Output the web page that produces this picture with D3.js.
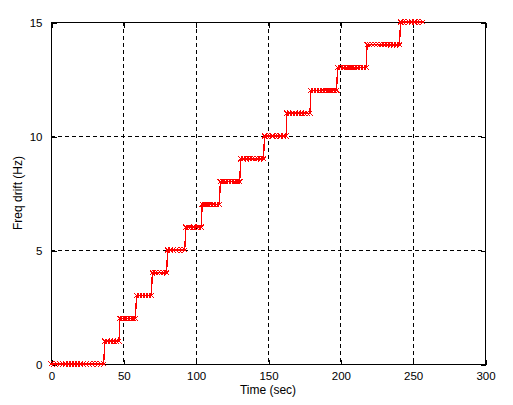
<!DOCTYPE html>
<html>
<head>
<meta charset="utf-8">
<script src="https://cdn.jsdelivr.net/npm/d3@7"></script>
<style>
  html, body { margin: 0; padding: 0; background: #fff; }
  svg { display: block; }
  text { font-family: "Liberation Sans", Arial, sans-serif; fill: #000; }
</style>
</head>
<body>
<div id="chart"></div>
<script>
// ---- data ----
const stepLevels = [0, 1, 2, 3, 4, 5, 6, 7, 8, 9, 10, 11, 12, 13, 14, 15];
// time (sec) at which each plateau starts / ends
const stepStarts = [0, 37, 47.5, 59, 70, 80.5, 93, 104.5, 117, 131, 147.5, 163, 179.5, 198, 218.5, 241.5];
const stepEnds   = [36.5, 47, 58.5, 69.5, 80, 92.5, 104, 116.5, 130.5, 147, 162.5, 179, 197.5, 218, 241, 257];
const sampleInterval = 2;
const xTicks = [0, 50, 100, 150, 200, 250, 300];
const yTicks = [0, 5, 10, 15];
const xLabel = "Time (sec)";
const yLabel = "Freq drift (Hz)";

// sampled step signal
const samples = [];
stepLevels.forEach((lv, i) => {
  const s = stepStarts[i], e = stepEnds[i];
  const n = Math.max(1, Math.round((e - s) / sampleInterval));
  for (let k = 0; k <= n; k++) samples.push({ t: s + (e - s) * k / n, f: lv });
});

const W = 513, H = 405;
const svg = d3.select("#chart").append("svg").attr("width", W).attr("height", H);

const x = d3.scaleLinear().domain([0, 300]).range([51, 485]);
const y = d3.scaleLinear().domain([0, 15]).range([364, 22]);

const x0 = x.range()[0], x1 = x.range()[1];
const y0 = y.range()[0], y1 = y.range()[1];

// grid
const grid = svg.append("g").attr("shape-rendering", "crispEdges");
grid.selectAll("line.gx").data(xTicks.filter(d => d > 0 && d < 300)).join("line")
  .attr("x1", d => x(d) + 0.5).attr("x2", d => x(d) + 0.5)
  .attr("y1", y1).attr("y2", y0)
  .attr("stroke", "#000").attr("stroke-width", 1).attr("stroke-dasharray", "4,3");
grid.selectAll("line.gy").data(yTicks.filter(d => d > 0 && d < 15)).join("line")
  .attr("y1", d => y(d) + 0.5).attr("y2", d => y(d) + 0.5)
  .attr("x1", x0).attr("x2", x1)
  .attr("stroke", "#000").attr("stroke-width", 1).attr("stroke-dasharray", "4,3");

// axes with inward ticks (box style)
const tl = 5;
const gBottom = svg.append("g").attr("transform", `translate(0.5,${y0 + 0.5})`)
  .call(d3.axisBottom(x).tickValues(xTicks).tickSize(-tl).tickPadding(7).tickFormat(d3.format("d")));
const gTop = svg.append("g").attr("transform", `translate(0.5,${y1 + 0.5})`)
  .call(d3.axisTop(x).tickValues(xTicks).tickSize(-tl).tickFormat(""));
const gLeft = svg.append("g").attr("transform", `translate(${x0 + 0.5},0.5)`)
  .call(d3.axisLeft(y).tickValues(yTicks).tickSize(-tl).tickPadding(9).tickFormat(d3.format("d")));
const gRight = svg.append("g").attr("transform", `translate(${x1 + 0.5},0.5)`)
  .call(d3.axisRight(y).tickValues(yTicks).tickSize(-tl).tickFormat(""));

[gBottom, gTop, gLeft, gRight].forEach(g => {
  g.attr("shape-rendering", "crispEdges");
  g.select(".domain").remove();
  g.selectAll(".tick line").attr("stroke", "#000");
  g.selectAll("text").attr("font-family", "Liberation Sans, Arial, sans-serif").attr("font-size", 11.5).attr("fill", "#000");
});

// box
svg.append("rect")
  .attr("x", x0 + 0.5).attr("y", y1 + 0.5)
  .attr("width", x1 - x0).attr("height", y0 - y1)
  .attr("fill", "none").attr("stroke", "#000").attr("stroke-width", 1)
  .attr("shape-rendering", "crispEdges");

// data line
const plot = svg.append("g").attr("shape-rendering", "crispEdges");
plot.append("path")
  .datum(samples)
  .attr("fill", "none").attr("stroke", "#ff0000").attr("stroke-width", 1.2)
  .attr("d", d3.line().x(d => x(d.t)).y(d => y(d.f)));

// x markers
const ms = 2.5;
plot.selectAll("path.mk").data(samples).join("path")
  .attr("class", "mk")
  .attr("transform", d => `translate(${x(d.t)},${y(d.f)})`)
  .attr("d", `M${-ms},${-ms}L${ms},${ms}M${-ms},${ms}L${ms},${-ms}`)
  .attr("stroke", "#ff0000").attr("stroke-width", 1).attr("fill", "none");

// axis labels
svg.append("text")
  .attr("x", (x0 + x1) / 2).attr("y", 394)
  .attr("text-anchor", "middle").attr("font-size", 12)
  .text(xLabel);
svg.append("text")
  .attr("transform", `translate(22,${(y0 + y1) / 2}) rotate(-90)`)
  .attr("text-anchor", "middle").attr("font-size", 12)
  .text(yLabel);
</script>
</body>
</html>
